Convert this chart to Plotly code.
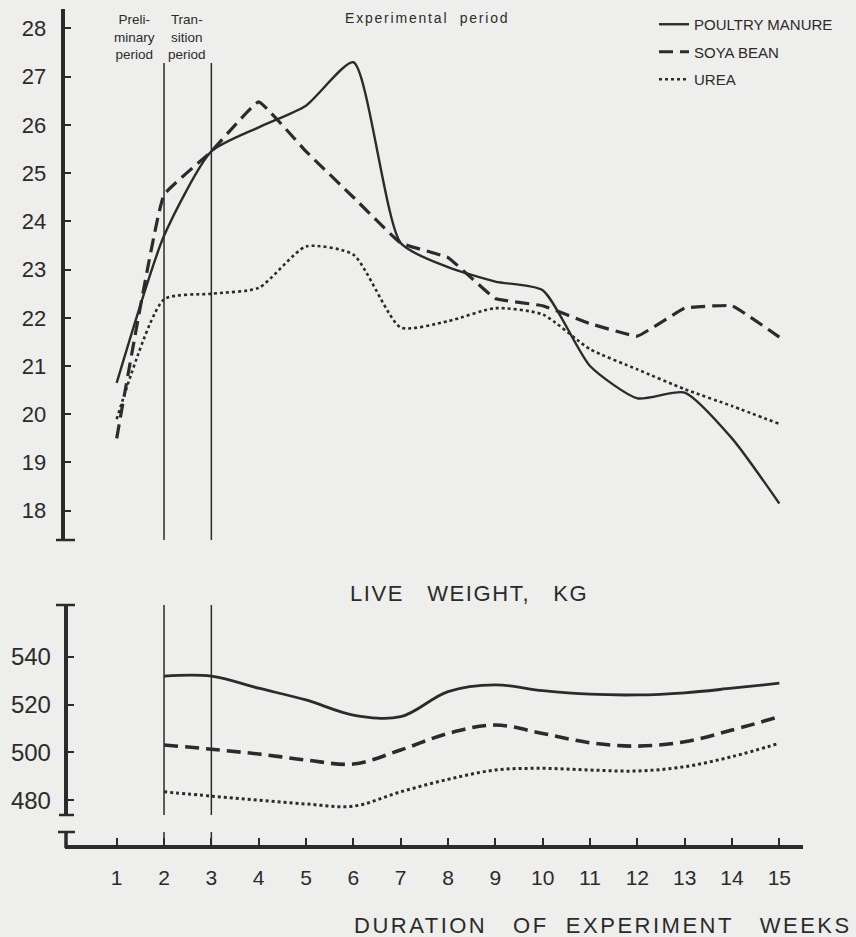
import plotly.graph_objects as go

# Weeks of the experiment
weeks = list(range(1, 16))

# Top panel (milk yield, kg/day)
poultry_top = [20.65, 23.7, 25.45, 25.95, 26.4, 27.3, 23.55, 23.05, 22.75, 22.57, 21.0, 20.33, 20.45, 19.5, 18.15]
soya_top = [19.5, 24.55, 25.45, 26.48, 25.45, 24.5, 23.55, 23.25, 22.4, 22.25, 21.88, 21.62, 22.2, 22.25, 21.6]
urea_top = [19.9, 22.38, 22.5, 22.62, 23.48, 23.31, 21.8, 21.93, 22.2, 22.07, 21.35, 20.93, 20.52, 20.17, 19.8]

# Bottom panel (live weight, kg) - starts at week 2
weeks_lw = list(range(2, 16))
poultry_lw = [531.9, 531.9, 526.8, 521.9, 515.6, 514.9, 525.4, 528.2, 525.8, 524.3, 524.0, 524.9, 526.8, 528.9]
soya_lw = [503.1, 501.3, 499.3, 496.8, 495.1, 501.0, 507.9, 511.4, 507.9, 504.0, 502.6, 504.4, 509.3, 514.9]
urea_lw = [483.5, 481.7, 480.0, 478.4, 477.5, 483.5, 488.7, 492.6, 493.3, 492.6, 492.2, 494.0, 498.2, 503.8]

top_ticks = list(range(18, 29))
lw_ticks = [480, 500, 520, 540]

W, H = 856, 937
INK = '#2b2b2b'
PAPER = '#eeeeec'
FONT = 'Liberation Sans'


def px_x(p):
    return p / W


def px_y(p):
    return 1 - p / H


series = [
    ('POULTRY MANURE', poultry_top, poultry_lw, 'solid', 2.4, 0.6),
    ('SOYA BEAN', soya_top, soya_lw, '14px,7px', 3.2, 0.25),
    ('UREA', urea_top, urea_lw, 'dot', 2.6, 0.6),
]

fig = go.Figure()

for name, top_vals, lw_vals, dash, width, smooth in series:
    fig.add_trace(go.Scatter(
        x=weeks, y=top_vals, name=name, mode='lines',
        legendgroup=name,
        line=dict(color=INK, width=width, dash=dash, shape='spline', smoothing=smooth),
        xaxis='x', yaxis='y'
    ))
    fig.add_trace(go.Scatter(
        x=weeks_lw, y=lw_vals, name=name, mode='lines',
        legendgroup=name, showlegend=False,
        line=dict(color=INK, width=width + 0.4, dash=dash, shape='spline', smoothing=1.0),
        xaxis='x', yaxis='y2'
    ))

# Period divider lines (weeks 2 and 3) and axis caps
shapes = []
for wk in [2, 3]:
    shapes.append(dict(type='line', xref='x', yref='y domain', x0=wk, x1=wk,
                       y0=0, y1=(540 - 63) / 531, line=dict(color=INK, width=1.5)))
    shapes.append(dict(type='line', xref='x', yref='y2 domain', x0=wk, x1=wk,
                       y0=0, y1=1, line=dict(color=INK, width=1.5)))
    shapes.append(dict(type='line', xref='x', yref='paper', x0=wk, x1=wk,
                       y0=px_y(847), y1=px_y(832), line=dict(color=INK, width=1.5)))

caps = [(56, 75, 540), (56, 75, 605), (59, 74, 815), (58, 75, 832)]
for xa, xb, yy in caps:
    shapes.append(dict(type='line', xref='paper', yref='paper',
                       x0=px_x(xa), x1=px_x(xb), y0=px_y(yy), y1=px_y(yy),
                       line=dict(color=INK, width=2.5)))
# short restart of the axis above the break
shapes.append(dict(type='line', xref='paper', yref='paper',
                   x0=px_x(66), x1=px_x(66), y0=px_y(848), y1=px_y(832),
                   line=dict(color=INK, width=3.5)))

annotations = [
    dict(text='Preli-<br>minary<br>period', x=px_x(134), y=px_y(37)),
    dict(text='Tran-<br>sition<br>period', x=px_x(187), y=px_y(37)),
]
for a in annotations:
    a.update(xref='paper', yref='paper', showarrow=False, xanchor='center', yanchor='middle',
             align='center', font=dict(family=FONT, size=13.5, color=INK))

annotations.append(dict(
    text='<span style="letter-spacing:1.8px">Experimental  period</span>',
    x=px_x(427), y=px_y(18), xref='paper', yref='paper', showarrow=False,
    xanchor='center', yanchor='middle', font=dict(family=FONT, size=14, color=INK)))
annotations.append(dict(
    text='<span style="letter-spacing:1.6px">LIVE&nbsp;&nbsp;&nbsp;WEIGHT,&nbsp;&nbsp;&nbsp;KG</span>',
    x=px_x(469), y=px_y(593), xref='paper', yref='paper', showarrow=False,
    xanchor='center', yanchor='middle', font=dict(family=FONT, size=22, color=INK)))
annotations.append(dict(
    text='<span style="letter-spacing:2.5px">DURATION&nbsp;&nbsp;&nbsp;OF&nbsp;&nbsp;EXPERIMENT&nbsp;&nbsp;&nbsp;WEEKS</span>',
    x=px_x(854), y=px_y(925), xref='paper', yref='paper', showarrow=False,
    xanchor='right', yanchor='middle', font=dict(family=FONT, size=22, color=INK)))

axis_common = dict(showgrid=False, zeroline=False, showline=True, linecolor=INK,
                   ticks='inside', tickcolor=INK, tickwidth=1.5, ticklen=7)

fig.update_layout(
    width=W, height=H,
    margin=dict(l=0, r=0, t=0, b=0),
    paper_bgcolor=PAPER,
    plot_bgcolor='rgba(0,0,0,0)',
    font=dict(family=FONT, color=INK),
    xaxis=dict(
        **axis_common,
        domain=[px_x(65), px_x(803)],
        range=[-0.092, 15.50],
        anchor='free', position=px_y(847),
        linewidth=4,
        tickvals=weeks,
        tickfont=dict(size=21, color=INK),
        ticklabelstandoff=11,
    ),
    yaxis=dict(
        **axis_common,
        domain=[px_y(540), px_y(9)],
        range=[17.392, 28.404],
        anchor='free', position=px_x(62.5),
        linewidth=3.5,
        tickvals=top_ticks,
        tickfont=dict(size=22, color=INK),
        ticklabelstandoff=10,
    ),
    yaxis2=dict(
        **axis_common,
        domain=[px_y(815), px_y(605)],
        range=[473.8, 561.6],
        anchor='free', position=px_x(65.5),
        linewidth=3.5,
        tickvals=lw_ticks,
        tickfont=dict(size=24, color=INK),
        ticklabelstandoff=8,
    ),
    showlegend=True,
    legend=dict(
        x=px_x(654), y=px_y(8), xanchor='left', yanchor='top',
        bgcolor='rgba(0,0,0,0)',
        font=dict(family=FONT, size=15, color=INK),
        tracegroupgap=5,
    ),
    shapes=shapes,
    annotations=annotations,
)

# drop the default page margin so the figure sits at the window corner
page_fix = "document.body.style.margin='0';document.body.style.background='%s';" % PAPER
fig.write_html("out.html", post_script=page_fix, config={'displayModeBar': False})
